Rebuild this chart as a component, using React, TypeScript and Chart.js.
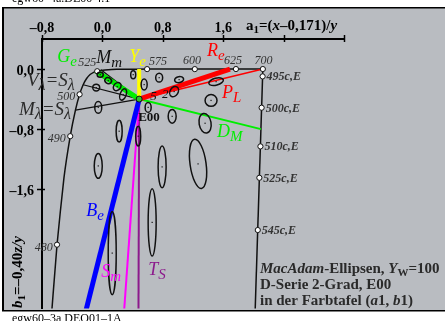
import React, { useEffect, useRef } from 'react';
import { Chart, registerables } from 'chart.js';

Chart.register(...registerables);

const SERIF = '"Liberation Serif", "Times New Roman", serif';
const INK = '#111111';
const TXT = '#2a2a2a';
const RED = '#ff0000';
const GREEN = '#00ee00';
const YELLOW = '#ffff00';
const BLUE = '#0000ff';
const MAGENTA = '#ff00ff';
const PURPLE = '#8c1a8c';
const BG = '#b9bcc1';

// ---- axes ----
const xTicks = [-0.8, 0, 0.8, 1.6, 2.4, 3.2];
const yTicks = [0, -0.8, -1.6];

// ---- spectral locus in (a1, b1) ----
const locusNm = [475, 480, 485, 490, 495, 500, 505, 510, 515, 520, 525, 530, 540, 550, 560, 575, 600, 625, 700];
const locusA = [-0.707, -0.601, -0.51, -0.426, -0.357, -0.302, -0.255, -0.209, -0.163, -0.116, -0.069, -0.02, 0.078, 0.189, 0.324, 0.592, 1.224, 1.769, 2.125];
const locusB = [-3.703, -2.339, -1.456, -0.894, -0.546, -0.337, -0.209, -0.126, -0.073, -0.044, -0.029, -0.02, -0.009, -0.004, -0.002, -0.001, -0.001, 0, 0];
const markedNm = [480, 490, 500, 525, 575, 600, 625, 700];

// ---- purple line and complementary marks ----
const purpleA = [2.125, 2.019];
const purpleB = [0, -3.35];
const compLabels = ['495c,E', '500c,E', '510c,E', '525c,E', '545c,E'];
const compA = [2.122, 2.109, 2.093, 2.079, 2.058];
const compB = [-0.098, -0.515, -1.03, -1.448, -2.144];

// ---- white point E00 ----
const whiteA = 0.487;
const whiteB = -0.4;

// ---- rays from E00 ----
const rayNames = ['Re', 'R700', 'Ye', 'Ge', 'Be', 'Sm', 'TS', 'DM', 'Mm', 'V=S', 'M=S'];
const rayEndA = [1.69, 2.125, 0.487, -0.09, -0.214, 0.289, 0.478, 2.1, -0.02, -0.255, -0.357];
const rayEndB = [0, 0, 0, -0.025, -3.2, -3.2, -3.2, -0.8, -0.01, -0.209, -0.546];
const rayColors = [RED, RED, YELLOW, GREEN, BLUE, MAGENTA, PURPLE, GREEN, INK, INK, INK];
const rayWidths = [5, 1.5, 4, 5, 5, 2, 2, 2, 1.2, 1.2, 1.2];

// ---- MacAdam ellipses (centre a, b; semi-axes in a, b units; rotation deg) ----
const ellA = [-0.029, 0.077, 0.196, 0.275, -0.082, -0.055, 0.408, 0.553, 0.752, 1.016, 0.95, 1.506, 1.439, 0.606, 0.924, 1.36, 0.222, 0.474, -0.055, 0.791, 1.267, 0.659, 0.13];
const ellB = [-0.075, -0.154, -0.234, -0.339, -0.247, -0.511, -0.075, -0.207, -0.115, -0.141, -0.3, -0.168, -0.418, -0.511, -0.63, -0.722, -0.828, -0.894, -1.29, -1.303, -1.263, -2.042, -2.451];
const ellRa = [0.04, 0.046, 0.046, 0.04, 0.046, 0.046, 0.033, 0.04, 0.046, 0.06, 0.053, 0.099, 0.079, 0.04, 0.053, 0.079, 0.04, 0.033, 0.053, 0.053, 0.106, 0.053, 0.053];
const ellRb = [0.033, 0.04, 0.059, 0.079, 0.046, 0.079, 0.053, 0.073, 0.059, 0.04, 0.073, 0.046, 0.079, 0.066, 0.092, 0.132, 0.145, 0.132, 0.165, 0.277, 0.33, 0.449, 0.554];
const ellRot = [0, 40, 40, 20, 0, 0, 0, 0, 0, -10, 30, -15, 0, 0, 0, -10, 0, 0, 0, 0, -8, 0, 0];

// ---- annotation text ----
const tagMain = ['G', 'M', 'Y', 'R', 'P', 'D', 'B', 'S', 'T'];
const tagSub = ['e', 'm', 'e', 'e', 'L', 'M', 'e', 'm', 'S'];
const tagA = [-0.598, -0.081, 0.355, 1.386, 1.585, 1.519, -0.214, -0.016, 0.606];
const tagB = [0.096, 0.083, 0.096, 0.176, -0.379, -0.907, -1.963, -2.768, -2.742];
const tagColors = [GREEN, INK, YELLOW, RED, RED, GREEN, BLUE, MAGENTA, PURPLE];

const wlText = ['525', '575', '600', '625', '700', '500', '490', '480'];
const wlA = [-0.2, 0.738, 1.188, 1.731, 2.134, -0.479, -0.604, -0.776];
const wlB = [0.044, 0.057, 0.07, 0.07, 0.07, -0.418, -0.973, -2.425];

const fmt = (v: number) => (v < -1e-9 ? '–' : '') + Math.abs(v).toFixed(1).replace('.', ',');

type Part = [string, string, number];
function rich(ctx: CanvasRenderingContext2D, x: number, y: number, parts: Part[]) {
  let cx = x;
  for (const [t, f, dy] of parts) {
    ctx.font = f;
    ctx.fillText(t, cx, y + dy);
    cx += ctx.measureText(t).width;
  }
}

export default function App() {
  const ref = useRef<HTMLCanvasElement>(null);

  useEffect(() => {
    document.body.style.margin = '0';
    const canvas = ref.current!;
    const xy = (a: number[], b: number[]) => a.map((v, i) => ({ x: v, y: b[i] }));
    const markedIdx = markedNm.map((nm) => locusNm.indexOf(nm));

    const datasets: any[] = [];
    datasets.push({
      label: 'E00', data: [{ x: whiteA, y: whiteB }], showLine: false,
      pointRadius: 3, pointBackgroundColor: '#30c030', pointBorderColor: INK, pointBorderWidth: 1,
    });
    datasets.push({
      label: 'marks',
      data: [...markedIdx.map((i) => ({ x: locusA[i], y: locusB[i] })), ...xy(compA, compB)],
      showLine: false, pointRadius: 2.6, pointBackgroundColor: '#ffffff', pointBorderColor: INK, pointBorderWidth: 1,
    });
    rayNames.forEach((n, i) => {
      datasets.push({
        label: n,
        data: [{ x: whiteA, y: whiteB }, { x: rayEndA[i], y: rayEndB[i] }],
        showLine: true, borderColor: rayColors[i], borderWidth: rayWidths[i], pointRadius: 0, borderCapStyle: 'butt',
      });
    });
    datasets.push({
      label: 'locus', data: xy(locusA, locusB), showLine: true, borderColor: INK, borderWidth: 1.5, pointRadius: 0, tension: 0.15,
    });
    datasets.push({
      label: 'purple', data: xy(purpleA, purpleB), showLine: true, borderColor: INK, borderWidth: 1.5, pointRadius: 0,
    });

    const frame = {
      id: 'frame',
      beforeDraw(chart: any) {
        const ctx = chart.ctx;
        ctx.save();
        ctx.fillStyle = '#ffffff';
        ctx.fillRect(0, 0, 445, 321);
        ctx.fillStyle = BG;
        ctx.fillRect(3, 8, 442, 302);
        ctx.fillStyle = '#000';
        ctx.fillRect(2, 7, 2, 304);
        ctx.fillRect(2, 7, 443, 1.5);
        ctx.restore();
      },
    };

    const ellipses = {
      id: 'ellipses',
      afterDatasetsDraw(chart: any) {
        const ctx = chart.ctx;
        const xs = chart.scales.x;
        const ys = chart.scales.y;
        const ca = chart.chartArea;
        ctx.save();
        ctx.beginPath();
        ctx.rect(ca.left, ca.top, ca.right - ca.left, ca.bottom - ca.top);
        ctx.clip();
        ctx.strokeStyle = INK;
        ctx.fillStyle = INK;
        ctx.lineWidth = 1.5;
        for (let i = 0; i < ellA.length; i++) {
          const cx = xs.getPixelForValue(ellA[i]);
          const cy = ys.getPixelForValue(ellB[i]);
          const rx = Math.abs(xs.getPixelForValue(ellA[i] + ellRa[i]) - cx);
          const ry = Math.abs(ys.getPixelForValue(ellB[i] + ellRb[i]) - cy);
          ctx.beginPath();
          ctx.ellipse(cx, cy, rx, ry, (ellRot[i] * Math.PI) / 180, 0, Math.PI * 2);
          ctx.stroke();
          ctx.fillRect(cx - 0.6, cy - 0.6, 1.2, 1.2);
        }
        ctx.restore();
      },
    };

    const texts = {
      id: 'texts',
      afterDraw(chart: any) {
        const ctx = chart.ctx;
        const xs = chart.scales.x;
        const ys = chart.scales.y;
        const ca = chart.chartArea;
        ctx.save();
        // tick marks crossing the axes
        ctx.strokeStyle = '#000';
        ctx.lineWidth = 1.5;
        xTicks.forEach((v) => {
          const p = Math.round(xs.getPixelForValue(v)) + 0.5;
          ctx.beginPath();
          ctx.moveTo(p, ca.top - 4);
          ctx.lineTo(p, ca.top + 3);
          ctx.stroke();
        });
        yTicks.forEach((v) => {
          const p = Math.round(ys.getPixelForValue(v)) + 0.5;
          ctx.beginPath();
          ctx.moveTo(ca.left - 5, p);
          ctx.lineTo(ca.left + 3, p);
          ctx.stroke();
        });

        ctx.textBaseline = 'alphabetic';
        // wavelength labels
        ctx.textAlign = 'center';
        ctx.fillStyle = '#333';
        ctx.font = `italic 12px ${SERIF}`;
        wlText.forEach((t, i) => ctx.fillText(t, xs.getPixelForValue(wlA[i]), ys.getPixelForValue(wlB[i])));
        // complementary labels
        ctx.textAlign = 'left';
        ctx.font = `italic bold 12px ${SERIF}`;
        compLabels.forEach((t, i) => ctx.fillText(t, xs.getPixelForValue(compA[i]) + 4, ys.getPixelForValue(compB[i]) + 4));
        // line tags
        tagMain.forEach((m, i) => {
          ctx.fillStyle = tagColors[i];
          rich(ctx, xs.getPixelForValue(tagA[i]), ys.getPixelForValue(tagB[i]), [
            [m, `italic 18px ${SERIF}`, 0],
            [tagSub[i], `italic 15px ${SERIF}`, 4],
          ]);
        });
        // E00 and digits
        ctx.fillStyle = INK;
        ctx.font = `bold 13px ${SERIF}`;
        ctx.fillText('E00', xs.getPixelForValue(0.474), ys.getPixelForValue(-0.696));
        ctx.font = `italic 13px ${SERIF}`;
        ctx.fillText('5', xs.getPixelForValue(0.633), ys.getPixelForValue(-0.418));
        ctx.fillText('2', xs.getPixelForValue(0.791), ys.getPixelForValue(-0.379));
        // V=S, M=S
        ctx.fillStyle = TXT;
        rich(ctx, xs.getPixelForValue(-1.0), ys.getPixelForValue(-0.22), [
          ['V', `italic 19px ${SERIF}`, 0], ['λ', `italic 16px ${SERIF}`, 4],
          ['=S', `italic 19px ${SERIF}`, 0], ['λ', `italic 16px ${SERIF}`, 4],
        ]);
        rich(ctx, xs.getPixelForValue(-1.105), ys.getPixelForValue(-0.617), [
          ['M', `italic 19px ${SERIF}`, 0], ['λ', `italic 16px ${SERIF}`, 4],
          ['=S', `italic 19px ${SERIF}`, 0], ['λ', `italic 16px ${SERIF}`, 4],
        ]);

        // axis titles
        ctx.fillStyle = '#000';
        rich(ctx, 246, 30, [
          ['a', `bold 15px ${SERIF}`, 0], ['1', `bold 11px ${SERIF}`, 3],
          ['=(', `bold 15px ${SERIF}`, 0], ['x', `italic bold 15px ${SERIF}`, 0],
          ['–0,171)/', `bold 15px ${SERIF}`, 0], ['y', `italic bold 15px ${SERIF}`, 0],
        ]);
        ctx.save();
        ctx.translate(22, 308);
        ctx.rotate(-Math.PI / 2);
        rich(ctx, 0, 0, [
          ['b', `italic bold 15px ${SERIF}`, 0], ['1', `bold 11px ${SERIF}`, 3],
          ['=–0,40', `bold 15px ${SERIF}`, 0], ['z/y', `italic bold 15px ${SERIF}`, 0],
        ]);
        ctx.restore();

        // info block
        ctx.fillStyle = TXT;
        rich(ctx, 260, 273, [
          ['MacAdam', `italic bold 15px ${SERIF}`, 0], ['-Ellipsen, ', `bold 15px ${SERIF}`, 0],
          ['Y', `italic bold 15px ${SERIF}`, 0], ['W', `bold 11px ${SERIF}`, 3], ['=100', `bold 15px ${SERIF}`, 0],
        ]);
        rich(ctx, 260, 289, [['D-Serie 2-Grad, E00', `bold 15px ${SERIF}`, 0]]);
        rich(ctx, 260, 305, [
          ['in der Farbtafel ', `bold 15px ${SERIF}`, 0], ['(', `bold 15px ${SERIF}`, 0],
          ['a', `italic bold 15px ${SERIF}`, 0], ['1, ', `bold 15px ${SERIF}`, 0],
          ['b', `italic bold 15px ${SERIF}`, 0], ['1)', `bold 15px ${SERIF}`, 0],
        ]);

        // bottom strip
        ctx.fillStyle = '#ffffff';
        ctx.fillRect(0, 311.5, 445, 10);
        ctx.fillStyle = '#000';
        ctx.fillRect(2, 310, 443, 1.5);
        ctx.font = `12px ${SERIF}`;
        ctx.fillText('egw60–3a DEO01–1A', 12, 322);
        ctx.fillText('egw60–4a.DE00 4.1', 12, 2);
        ctx.restore();
      },
    };

    const chart = new Chart(canvas, {
      type: 'scatter',
      data: { datasets },
      plugins: [frame, ellipses, texts],
      options: {
        animation: false,
        responsive: false,
        devicePixelRatio: 1,
        events: [],
        layout: { padding: { left: 0, top: 0, right: 101, bottom: 10 } },
        plugins: { legend: { display: false }, tooltip: { enabled: false }, title: { display: false } },
        scales: {
          x: {
            type: 'linear', position: 'top', min: -0.8, max: 3.2,
            afterBuildTicks: (s: any) => { s.ticks = xTicks.map((v) => ({ value: v })); },
            afterFit: (s: any) => { s.height = 39; },
            grid: { display: true, drawOnChartArea: false, drawTicks: true, tickLength: 1, color: 'rgba(0,0,0,0)' },
            border: { display: true, color: '#000', width: 2 },
            ticks: {
              autoSkip: false, maxRotation: 0, padding: 1, color: '#000',
              font: { family: SERIF, size: 14, weight: 'bold' },
              callback: (v: any) => (Number(v) > 2 ? '' : fmt(Number(v))),
            },
          },
          y: {
            type: 'linear', position: 'left', min: -3.19, max: 0.4,
            afterBuildTicks: (s: any) => { s.ticks = yTicks.map((v) => ({ value: v })); },
            afterFit: (s: any) => { s.width = 42; },
            grid: { display: true, drawOnChartArea: false, drawTicks: true, tickLength: 4, color: 'rgba(0,0,0,0)' },
            border: { display: true, color: '#000', width: 2 },
            ticks: {
              autoSkip: false, padding: 4, labelOffset: 2, color: '#000',
              font: { family: SERIF, size: 14, weight: 'bold' },
              callback: (v: any) => fmt(Number(v)),
            },
          },
        },
      } as any,
    });
    return () => chart.destroy();
  }, []);

  return (
    <div style={{ position: 'absolute', left: 0, top: 0, width: 445, height: 321 }}>
      <canvas ref={ref} width={445} height={321} style={{ display: 'block' }} />
    </div>
  );
}
